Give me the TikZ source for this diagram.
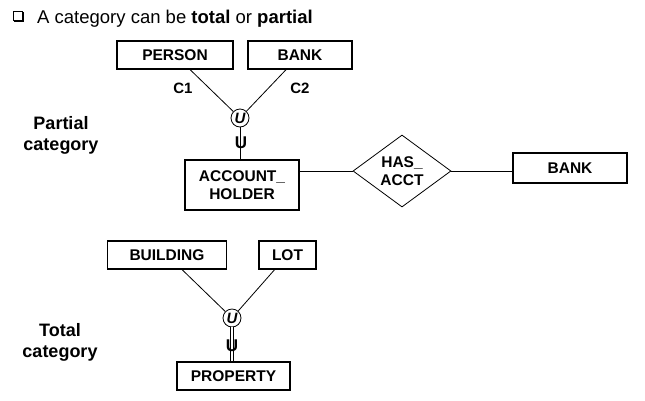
\documentclass[tikz,border=0pt]{standalone}
\usepackage{fontspec}
\setmainfont{Liberation Sans}
\usetikzlibrary{shapes.geometric}
\begin{document}
\begin{tikzpicture}[x=1pt,y=-1pt,
  ent/.style={draw, line width=1.4pt, font=\bfseries\fontsize{15.5}{18}\selectfont, inner sep=0pt, align=center},
  rel/.style={draw, shape=diamond, line width=0.8pt, font=\bfseries\fontsize{15.5}{18}\selectfont, inner sep=0pt, align=center, minimum width=98pt, minimum height=66pt},
  uni/.style={draw, circle, line width=0.8pt, minimum size=18pt, inner sep=0pt, font=\bfseries\itshape\fontsize{15}{15}\selectfont},
  conn/.style={line width=0.8pt},
  lbl/.style={font=\bfseries\fontsize{15}{16}\selectfont, inner sep=0pt},
  side/.style={font=\bfseries\fontsize{18}{21}\selectfont, inner sep=0pt, anchor=base},
  cup/.style={font=\bfseries\fontsize{17}{17}\selectfont, inner sep=0pt, anchor=base}
]
\useasboundingbox (0,0) rectangle (645,400);

% title
\draw[line width=0.6pt] (13,11) rectangle (22,20);
\draw[line width=1.4pt] (14,21.1) -- (23.1,21.1) -- (23.1,12);
\node[anchor=base west, inner sep=0pt, font=\fontsize{18.5}{22}\selectfont] (title) at (37,23) {A category can be \textbf{total} or \textbf{partial}};

% partial category
\node[side] (lpart1) at (61,129) {Partial};
\node[side] (lpart2) at (61,150) {category};
\node[ent, minimum width=116pt, minimum height=28pt] (person) at (175,55) {PERSON};
\node[ent, minimum width=104pt, minimum height=28pt] (bank1) at (300,55) {BANK};
\node[uni] (u1) at (240,118) {U};
\node[ent, minimum width=114pt, minimum height=50pt] (ah) at (242,185) {ACCOUNT\_\\HOLDER};
\node[rel] (has) at (402,171) {HAS\_\\ACCT};
\node[ent, minimum width=114pt, minimum height=30pt] (bank2) at (570,168) {BANK};

\draw[conn] (person) -- (u1);
\draw[conn] (bank1) -- (u1);
\draw[conn] (u1) -- (u1 |- ah.north);
\node[cup] (s1) at (241,148) {U};
\node[lbl] (c1) at (183,88) {C1};
\node[lbl] (c2) at (300,88) {C2};
\draw[conn] (ah.east |- has.west) -- (has.west);
\draw[conn] (has.east) -- (bank2.west |- has.east);

% total category
\node[side] (ltot1) at (60,336) {Total};
\node[side] (ltot2) at (60,357) {category};
\node[ent, minimum width=119pt, minimum height=28pt] (bldg) at (167,255) {BUILDING};
\node[ent, minimum width=57pt, minimum height=28pt] (lot) at (287.5,255) {LOT};
\node[uni] (u2) at (232,318) {U};
\node[ent, minimum width=113pt, minimum height=28pt] (prop) at (233.5,376) {PROPERTY};
\draw[conn] (bldg) -- (u2);
\draw[conn] (lot) -- (u2);
\draw[conn, double, double distance=1.6pt] (u2) -- (u2 |- prop.north);
\node[cup] (s2) at (232,351) {U};
\end{tikzpicture}
\end{document}
